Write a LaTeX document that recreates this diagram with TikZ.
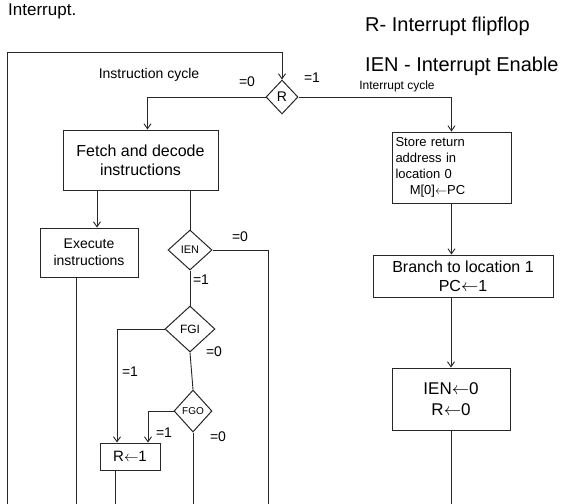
\documentclass[tikz,border=0pt]{standalone}
\usepackage{fontspec}
\setmainfont{Liberation Sans}
\usetikzlibrary{shapes.geometric,arrows.meta}
\begin{document}
\begin{tikzpicture}[x=1pt,y=-1pt,
  line/.style={draw=black!85, line width=0.9pt},
  arr/.style={line, -{Straight Barb[length=5pt,width=7pt]}},
  box/.style={draw=black!85, line width=1pt, inner sep=0pt, align=center, font=\fontsize{16}{19}\selectfont},
  dec/.style={diamond, draw=black!85, line width=1pt, inner sep=0pt},
  lab/.style={font=\fontsize{14}{16}\selectfont, inner sep=1pt},
  head/.style={font=\fontsize{20}{22}\selectfont, inner sep=0pt, anchor=base west},
]
\useasboundingbox (0,0) rectangle (574,504);

% header texts
\node[head, font=\fontsize{17}{19}\selectfont] (title) at (8,15) {Interrupt.};
\node[head] (legR) at (365,31) {R- Interrupt flipflop};
\node[head] (legI) at (365,71) {IEN - Interrupt Enable};

% decisions
\node[dec, minimum width=32, minimum height=34, font=\fontsize{14}{16}\selectfont] (R) at (282,97) {R};
\node[dec, minimum width=44, minimum height=40, font=\fontsize{11}{13}\selectfont] (IEN) at (190,250) {IEN};
\node[dec, minimum width=50, minimum height=46, font=\fontsize{12}{14}\selectfont] (FGI) at (190,329) {FGI};
\node[dec, minimum width=38, minimum height=42, font=\fontsize{10}{12}\selectfont] (FGO) at (193,411) {FGO};

% boxes
\node[box, minimum width=155, minimum height=60] (fetch) at (140.5,160) {Fetch and decode\\instructions};
\node[box, minimum width=98, minimum height=49, font=\fontsize{14}{17}\selectfont] (exec) at (89,252.5) {Execute\\instructions};
\node[box, minimum width=60, minimum height=27, font=\fontsize{15}{17}\selectfont] (r1) at (130,456.5) {R$\leftarrow$1};
\node[box, minimum width=119, minimum height=71, text width=112, inner xsep=3.5pt, align=left, font=\fontsize{13}{16}\selectfont] (store) at (451.5,167.5) {Store return\\address in\\location 0\\\hspace*{1.1em}M[0]$\leftarrow$PC};
\node[box, minimum width=180, minimum height=42] (branch) at (463,276) {Branch to location 1\\PC$\leftarrow$1};
\node[box, minimum width=118, minimum height=62, font=\fontsize{17}{21}\selectfont] (ien0) at (451,399) {IEN$\leftarrow$0\\R$\leftarrow$0};

% helper coordinates
\coordinate (bl) at (7,504);
\coordinate (tl) at (7,52);
\coordinate (xa) at (97,0);
\coordinate (xb) at (76,0);
\coordinate (c1) at (268,504);

% connectors
\draw[arr] (bl) -- (tl) -| (R.north);
\draw[arr] (R.west) -| ([xshift=7pt]fetch.north);
\draw[arr] (R.east) -| (store.north);
\draw[arr] (fetch.south -| xa) -- (exec.north -| xa);
\draw[line] (fetch.south -| IEN.north) -- (IEN.north);
\draw[line] (IEN.east) -| (c1);
\draw[line] (IEN.south) -- (FGI.north);
\draw[arr] (FGI.west) -| ([xshift=-13pt]r1.north);
\draw[line] (FGI.south) -- (FGO.north);
\draw[arr] (FGO.west) -| ([xshift=18pt]r1.north);
\draw[line] (FGO.south) -- (FGO.south |- bl);
\draw[line] ([xshift=-15pt]r1.south) -- ([xshift=-15pt]r1.south |- bl);
\draw[line] (exec.south -| xb) -- (xb |- bl);
\draw[arr] (store.south) -- (store.south |- branch.north);
\draw[arr] (ien0.north |- branch.south) -- (ien0.north);
\draw[line] (ien0.south) -- (ien0.south |- bl);

% labels
\node[font=\fontsize{14}{16}\selectfont, inner sep=0pt] (ic) at (149,75) {Instruction cycle};
\node[font=\fontsize{12}{14}\selectfont, inner sep=0pt] (icy) at (397,86) {Interrupt cycle};
\node[lab] (lr0) at (247,82) {=0};
\node[lab] (lr1) at (312,78) {=1};
\node[lab] (li0) at (240,237) {=0};
\node[lab] (li1) at (201,280) {=1};
\node[lab] (lg0) at (214,352) {=0};
\node[lab] (lg1) at (130,372) {=1};
\node[lab] (lo1) at (164,433) {=1};
\node[lab] (lo0) at (218,437) {=0};
\end{tikzpicture}
\end{document}
